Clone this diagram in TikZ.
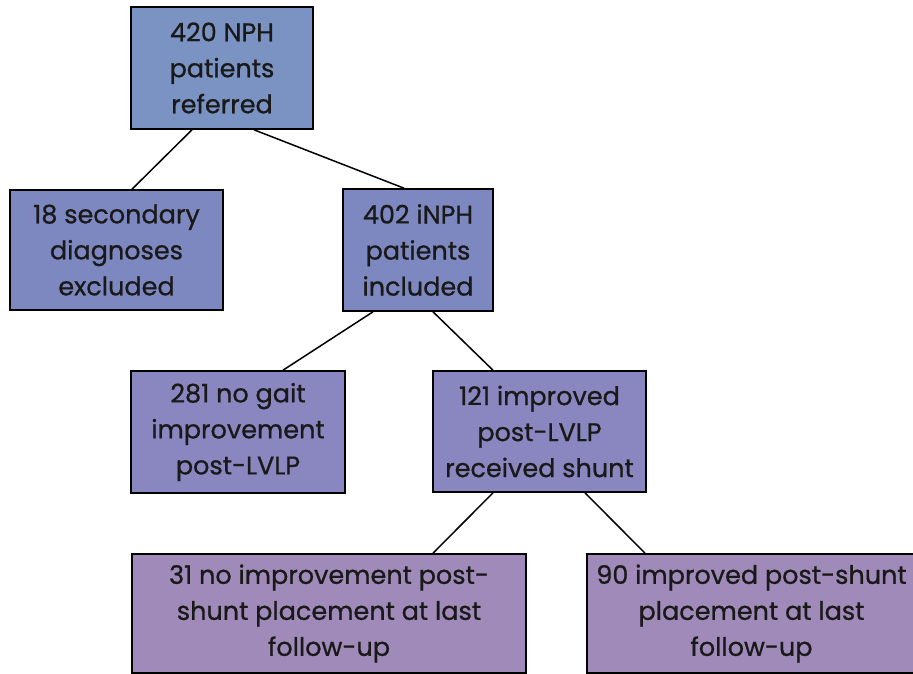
\documentclass[tikz,border=0pt]{standalone}
\usepackage{fontspec}
\setmainfont{Poppins}[FakeBold=0.8]

\definecolor{nphblue}{HTML}{7B93C3}
\definecolor{nphslate}{HTML}{7E88C0}
\definecolor{nphlilac}{HTML}{8A86C0}
\definecolor{nphmauve}{HTML}{A08AB9}

\begin{document}
\begin{tikzpicture}[x=1pt,y=-1pt,
    stage/.style={draw=black,line width=1.6pt,rectangle,align=center,inner sep=0pt,
      font=\fontsize{25.5}{36}\selectfont,text=black!90},
    link/.style={line width=1.5pt}]
  \useasboundingbox (0,0) rectangle (913,674);

  \node[stage,fill=nphblue,minimum width=182pt,minimum height=122pt] (referred) at (222,68) {420 NPH\\patients\\referred};

  \node[stage,fill=nphslate,minimum width=213pt,minimum height=120pt] (secondary) at (116.5,250) {18 secondary\\diagnoses\\excluded};
  \node[stage,fill=nphslate,minimum width=150pt,minimum height=122pt] (included) at (418,250) {402 iNPH\\patients\\included};

  \node[stage,fill=nphlilac,minimum width=214pt,minimum height=122pt] (nogait) at (238,432) {281 no gait\\improvement\\post-LVLP};
  \node[stage,fill=nphlilac,minimum width=213pt,minimum height=121pt] (shunted) at (539.5,431.5) {121 improved\\post-LVLP\\received shunt};

  \node[stage,fill=nphmauve,minimum width=394pt,minimum height=119pt] (noimprove) at (329,613.5) {31 no improvement post-\\shunt placement at last\\follow-up};
  \node[stage,fill=nphmauve,minimum width=329pt,minimum height=119pt] (improved) at (751.5,613.5) {90 improved post-shunt\\placement at last\\follow-up};

  \draw[link] ([xshift=-30pt]referred.south) -- ([xshift=15.5pt]secondary.north);
  \draw[link] ([xshift=32pt]referred.south) -- ([xshift=-14pt]included.north);
  \draw[link] ([xshift=-45pt]included.south) -- ([xshift=45pt]nogait.north);
  \draw[link] ([xshift=15pt]included.south) -- ([xshift=-46.5pt]shunted.north);
  \draw[link] ([xshift=-46.5pt]shunted.south) -- ([xshift=104pt]noimprove.north);
  \draw[link] ([xshift=45.5pt]shunted.south) -- ([xshift=-106.5pt]improved.north);
\end{tikzpicture}
\end{document}
